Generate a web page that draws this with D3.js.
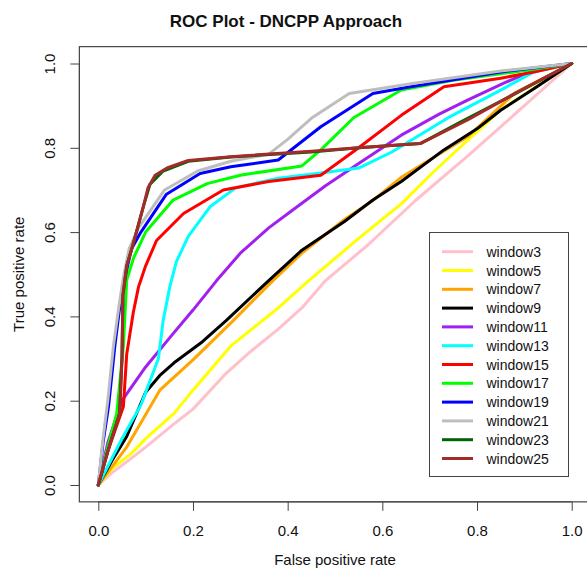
<!DOCTYPE html>
<html>
<head>
<meta charset="utf-8">
<script src="https://cdn.jsdelivr.net/npm/d3@7"></script>
<style>
  body { margin: 0; background: #fff; }
  svg { font-family: "Liberation Sans", Arial, sans-serif; }
</style>
</head>
<body>
<svg id="chart" width="587" height="569"></svg>
<script>
// series names and colours (R colour names)
const labels = ['window3', 'window5', 'window7', 'window9', 'window11', 'window13',
  'window15', 'window17', 'window19', 'window21', 'window23', 'window25'];
const colors = ['#FFC0CB', '#FFFF00', '#FFA500', '#000000', '#A020F0', '#00FFFF',
  '#FF0000', '#00FF00', '#0000FF', '#BEBEBE', '#006400', '#A52A2A'];

// ROC points [fpr, tpr]
const window3 = [[0,0],[0.03,0.03],[0.06,0.055],[0.1,0.09],[0.16,0.145],[0.2,0.18],[0.27,0.265],[0.32,0.315],[0.38,0.37],[0.43,0.42],[0.48,0.485],[0.57,0.57],[0.67,0.675],[0.78,0.78],[0.9,0.9],[1,1]];
const window5 = [[0,0],[0.03,0.04],[0.07,0.075],[0.1,0.11],[0.16,0.17],[0.2,0.225],[0.28,0.33],[0.38,0.42],[0.45,0.49],[0.55,0.585],[0.64,0.667],[0.71,0.745],[0.85,0.89],[1,1]];
const window7 = [[0,0],[0.03,0.045],[0.06,0.09],[0.13,0.225],[0.2,0.297],[0.285,0.39],[0.37,0.486],[0.43,0.55],[0.52,0.63],[0.58,0.675],[0.64,0.73],[0.78,0.826],[0.88,0.93],[1,1]];
const window9 = [[0,0],[0.03,0.06],[0.06,0.115],[0.1,0.22],[0.13,0.26],[0.16,0.29],[0.22,0.34],[0.27,0.39],[0.36,0.485],[0.43,0.557],[0.52,0.625],[0.58,0.676],[0.64,0.72],[0.73,0.795],[0.8,0.845],[0.85,0.889],[0.92,0.94],[1,1]];
const window11 = [[0,0],[0.02,0.1],[0.05,0.2],[0.1,0.28],[0.155,0.355],[0.2,0.415],[0.25,0.485],[0.3,0.55],[0.36,0.61],[0.41,0.652],[0.48,0.71],[0.55,0.763],[0.64,0.83],[0.72,0.88],[0.78,0.913],[0.86,0.955],[0.92,0.984],[1,1]];
const window13 = [[0,0],[0.05,0.11],[0.09,0.19],[0.127,0.3],[0.137,0.39],[0.151,0.47],[0.165,0.53],[0.19,0.59],[0.236,0.66],[0.29,0.705],[0.38,0.728],[0.47,0.74],[0.55,0.752],[0.62,0.79],[0.74,0.872],[0.85,0.937],[0.92,0.98],[1,1]];
const window15 = [[0,0],[0.02,0.08],[0.053,0.186],[0.06,0.31],[0.074,0.41],[0.085,0.47],[0.1,0.52],[0.123,0.58],[0.18,0.644],[0.264,0.7],[0.36,0.72],[0.47,0.735],[0.55,0.8],[0.64,0.877],[0.73,0.945],[0.85,0.965],[0.92,0.98],[1,1]];
const window17 = [[0,0],[0.02,0.09],[0.039,0.17],[0.053,0.33],[0.06,0.486],[0.075,0.54],[0.1,0.6],[0.158,0.676],[0.23,0.715],[0.3,0.735],[0.43,0.757],[0.47,0.795],[0.54,0.872],[0.64,0.937],[0.75,0.96],[0.88,0.98],[1,1]];
const window19 = [[0,0],[0.01,0.1],[0.022,0.19],[0.035,0.33],[0.045,0.42],[0.055,0.486],[0.07,0.56],[0.09,0.6],[0.144,0.69],[0.215,0.739],[0.28,0.755],[0.38,0.771],[0.47,0.85],[0.58,0.929],[0.66,0.945],[0.85,0.98],[1,1]];
const window21 = [[0,0],[0.01,0.11],[0.02,0.2],[0.032,0.33],[0.043,0.42],[0.052,0.486],[0.065,0.56],[0.085,0.61],[0.14,0.7],[0.21,0.745],[0.28,0.768],[0.36,0.785],[0.4,0.82],[0.45,0.87],[0.53,0.929],[0.66,0.952],[0.85,0.982],[1,1]];
const window23 = [[0,0],[0.02,0.08],[0.045,0.17],[0.05,0.3],[0.052,0.45],[0.06,0.52],[0.074,0.573],[0.095,0.66],[0.109,0.713],[0.137,0.745],[0.19,0.768],[0.28,0.778],[0.45,0.79],[0.55,0.8],[0.68,0.81],[0.77,0.864],[0.88,0.928],[1,1]];
const window25 = [[0,0],[0.02,0.08],[0.045,0.17],[0.05,0.3],[0.052,0.45],[0.06,0.52],[0.074,0.573],[0.095,0.66],[0.105,0.705],[0.12,0.735],[0.145,0.752],[0.19,0.77],[0.28,0.779],[0.45,0.792],[0.55,0.8],[0.68,0.81],[0.78,0.866],[0.88,0.929],[1,1]];
const series = [window3, window5, window7, window9, window11, window13,
  window15, window17, window19, window21, window23, window25];

const ticks = [0, 0.2, 0.4, 0.6, 0.8, 1.0];

const svg = d3.select('#chart');
const x = d3.scaleLinear().domain([0, 1]).range([98.3, 571.7]);
const y = d3.scaleLinear().domain([0, 1]).range([485, 63.5]);
const x0 = x(-0.04), x1 = x(1.04), y0 = y(-0.04), y1 = y(1.04);

// curves
const line = d3.line().x(d => x(d[0])).y(d => y(d[1]));
svg.append('g').selectAll('path').data(series).enter().append('path')
  .attr('d', line)
  .attr('fill', 'none')
  .attr('stroke', (_, i) => colors[i])
  .attr('stroke-width', 3)
  .attr('stroke-linejoin', 'round')
  .attr('stroke-linecap', 'round');

// plot box
svg.append('rect')
  .attr('x', x0).attr('y', y1)
  .attr('width', x1 - x0).attr('height', y0 - y1)
  .attr('fill', 'none').attr('stroke', '#444').attr('stroke-width', 1.2);

// axes
const xAxis = svg.append('g').attr('transform', `translate(0,${y0})`)
  .call(d3.axisBottom(x).tickValues(ticks).tickFormat(d3.format('.1f')).tickSize(9).tickSizeOuter(0));
xAxis.select('.domain').attr('d', `M${x(0)},0H${x(1)}`).attr('stroke', '#444');
xAxis.selectAll('.tick line').attr('stroke', '#444');
xAxis.selectAll('text').attr('y', 34).attr('dy', 0)
  .attr('font-size', 15).attr('font-family', '"Liberation Sans", Arial, sans-serif').attr('fill', '#111');

const yAxis = svg.append('g').attr('transform', `translate(${x0},0)`)
  .call(d3.axisLeft(y).tickValues(ticks).tickFormat(d3.format('.1f')).tickSize(9).tickSizeOuter(0));
yAxis.select('.domain').attr('d', `M0,${y(0)}V${y(1)}`).attr('stroke', '#444');
yAxis.selectAll('.tick line').attr('stroke', '#444');
yAxis.selectAll('text')
  .attr('x', 0).attr('y', -24).attr('dy', 0)
  .attr('transform', 'rotate(-90)')
  .attr('text-anchor', 'middle')
  .attr('font-size', 15).attr('font-family', '"Liberation Sans", Arial, sans-serif').attr('fill', '#111');

// titles
svg.append('text').attr('x', 286).attr('y', 27).attr('text-anchor', 'middle')
  .attr('font-size', 17).attr('font-weight', 'bold').attr('fill', '#111')
  .text('ROC Plot - DNCPP Approach');
svg.append('text').attr('x', (x0 + x1) / 2).attr('y', 565).attr('text-anchor', 'middle')
  .attr('font-size', 15).attr('fill', '#111')
  .text('False positive rate');
svg.append('text').attr('transform', `translate(24,${(y0 + y1) / 2}) rotate(-90)`)
  .attr('text-anchor', 'middle')
  .attr('font-size', 15).attr('fill', '#111')
  .text('True positive rate');

// legend
const legend = svg.append('g');
legend.append('rect')
  .attr('x', 429.5).attr('y', 232.5).attr('width', 139).attr('height', 244)
  .attr('fill', '#fff').attr('stroke', '#444').attr('stroke-width', 1);
const rows = legend.selectAll('g.row').data(labels).enter().append('g')
  .attr('class', 'row')
  .attr('transform', (_, i) => `translate(0,${251.7 + i * 18.8})`);
rows.append('line')
  .attr('x1', 442).attr('x2', 473).attr('y1', 0).attr('y2', 0)
  .attr('stroke', (_, i) => colors[i]).attr('stroke-width', 3);
rows.append('text')
  .attr('x', 486.5).attr('y', 5)
  .attr('font-size', 14).attr('fill', '#111')
  .text(d => d);
</script>
</body>
</html>
